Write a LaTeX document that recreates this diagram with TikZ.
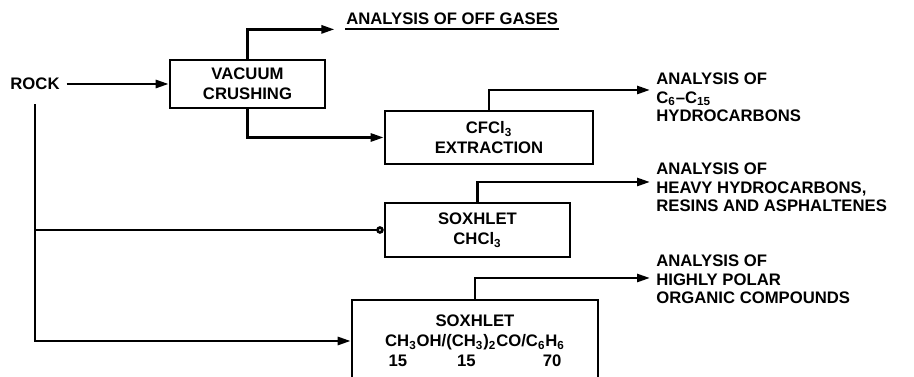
\documentclass[tikz,border=0pt]{standalone}
\usepackage{fontspec}
\setmainfont{Liberation Sans}
\usetikzlibrary{arrows.meta}

\begin{document}
\begin{tikzpicture}[x=0.02cm,y=-0.02cm,>={Stealth[length=2.6mm,width=1.6mm,inset=0pt]},line width=1.5pt,
  box/.style={draw,align=center,inner sep=0pt,font=\fontsize{9.5}{11.5}\selectfont\bfseries},
  result/.style={anchor=north west,align=left,inner sep=0pt,font=\fontsize{9.5}{10.3}\selectfont\bfseries}]
\useasboundingbox (0,0) rectangle (914,377);
\node[font=\fontsize{9.5}{11.5}\selectfont\bfseries] (rock) at (35,84) {ROCK};
\node[box,minimum width=3.1cm,minimum height=0.96cm] (vac) at (247.5,84) {VACUUM\\CRUSHING};
\node[box,minimum width=4.16cm,minimum height=1.06cm] (cfc) at (489,137.5) {CFCl\textsubscript{3}\\EXTRACTION};
\node[box,minimum width=3.7cm,minimum height=1.08cm] (sox1) at (477.5,230) {SOXHLET\\CHCl\textsubscript{3}};
\node[box,minimum width=4.92cm,minimum height=1.64cm] (sox2) at (475,341) {SOXHLET\\CH\textsubscript{3}OH/(CH\textsubscript{3})\textsubscript{2}CO/C\textsubscript{6}H\textsubscript{6}\\\makebox[3.46cm]{15\hspace{1cm}15\hfill 70}};
% results
\node[font=\fontsize{9.5}{11.5}\selectfont\bfseries,anchor=base west,inner sep=0pt] (gas) at (345,25) {ANALYSIS OF OFF GASES};
\node[result] (res1) at (655,72) {ANALYSIS OF\\C\textsubscript{6}--C\textsubscript{15}\\HYDROCARBONS};
\node[result] (res2) at (655,162) {ANALYSIS OF\\HEAVY HYDROCARBONS,\\RESINS AND ASPHALTENES};
\node[result] (res3) at (655,254) {ANALYSIS OF\\HIGHLY POLAR\\ORGANIC COMPOUNDS};
\coordinate (out1) at (650,90);
\coordinate (out2) at (650,182);
\coordinate (out3) at (650,278);
% connectors
\draw[line width=1.2pt] ([yshift=-2.5pt]gas.base west) -- ([yshift=-2.5pt]gas.base east);
\draw[->] (vac.north) |- ([xshift=-6pt,yshift=-2.5pt]gas.base west);
\draw[->] (rock.east) -- (vac.west);
\draw[->] (vac.south) |- (cfc.west);
\draw[->] (cfc.north) |- (out1);
\draw[->] (sox1.north) |- (out2);
\draw[->] (sox2.north) |- (out3);
\draw[->] ([yshift=-4pt]rock.south) |- (sox2.west);
\draw[-{Circle[open,length=1.5mm]}] (rock.south |- sox1.west) -- (sox1.west);
\end{tikzpicture}
\end{document}
